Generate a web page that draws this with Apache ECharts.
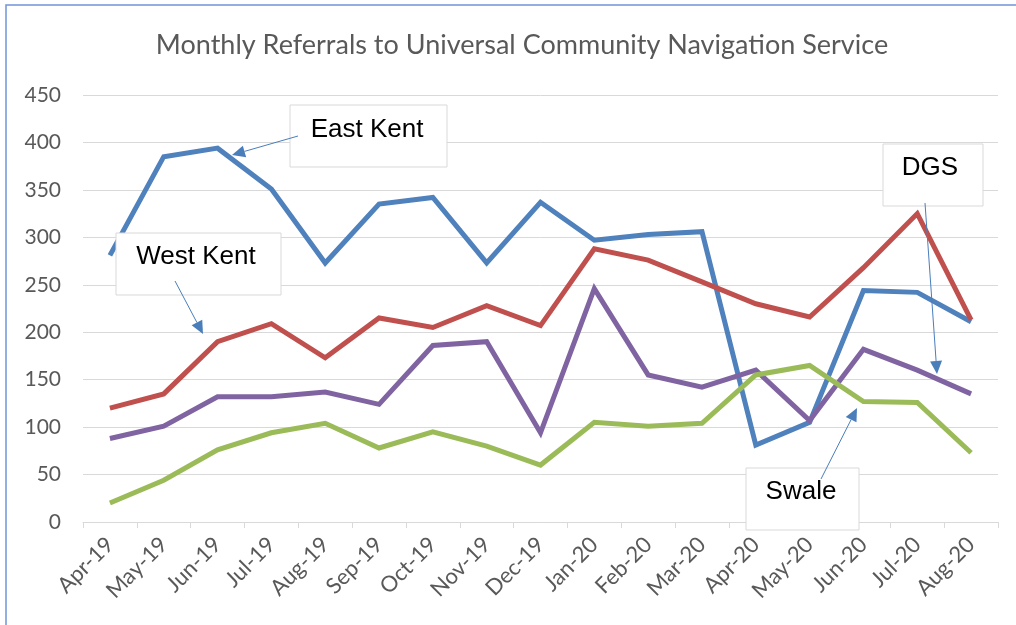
<!DOCTYPE html>
<html>
<head>
<meta charset="utf-8">
<title>Monthly Referrals to Universal Community Navigation Service</title>
<script src="https://cdn.jsdelivr.net/npm/echarts@6/dist/echarts.min.js"></script>
<style>
  html, body { margin: 0; padding: 0; background: #ffffff; }
  #chart { width: 1016px; height: 625px; }
</style>
</head>
<body>
<div id="chart"></div>
<script>
// Months on the category axis
const months = ['Apr-19', 'May-19', 'Jun-19', 'Jul-19', 'Aug-19', 'Sep-19', 'Oct-19', 'Nov-19', 'Dec-19',
                'Jan-20', 'Feb-20', 'Mar-20', 'Apr-20', 'May-20', 'Jun-20', 'Jul-20', 'Aug-20'];

// Monthly referral counts per area
const eastKent = [281, 385, 394, 351, 273, 335, 342, 273, 337, 297, 303, 306, 81, 105, 244, 242, 211];
const westKent = [120, 135, 190, 209, 173, 215, 205, 228, 207, 288, 276, 253, 230, 216, 268, 325, 213];
const dgs      = [88, 101, 132, 132, 137, 124, 186, 190, 94, 246, 155, 142, 160, 107, 182, 160, 135];
const swale    = [20, 44, 76, 94, 104, 78, 95, 80, 60, 105, 101, 104, 155, 165, 127, 126, 73];

// Value axis ticks
const yTicks = { min: 0, max: 450, step: 50 };

const chartTitle = 'Monthly Referrals to Universal Community Navigation Service';

const FONT = 'Lato, "Open Sans", sans-serif';
const BOX_FONT = '"Liberation Sans", Arial, sans-serif';
const ARROW = '#4A7EBB';

// Callout: a white text box with a thin arrow pointing at a line
function callout(label, box, textPos, from, to) {
  const dx = to[0] - from[0], dy = to[1] - from[1];
  const len = Math.sqrt(dx * dx + dy * dy);
  const ux = dx / len, uy = dy / len;
  const headL = 13, headW = 6;
  const bx = to[0] - ux * headL, by = to[1] - uy * headL;
  return [
    {
      type: 'rect', z: 100,
      shape: { x: box[0], y: box[1], width: box[2], height: box[3] },
      style: { fill: '#ffffff', stroke: '#D9D9D9', lineWidth: 1 }
    },
    {
      type: 'text', z: 101,
      x: textPos[0], y: textPos[1],
      style: { text: label, font: '26px ' + BOX_FONT, fill: '#000000', align: 'center', verticalAlign: 'middle' }
    },
    {
      type: 'line', z: 102,
      shape: { x1: from[0], y1: from[1], x2: bx, y2: by },
      style: { stroke: ARROW, lineWidth: 1 }
    },
    {
      type: 'polygon', z: 102,
      shape: { points: [to, [bx - uy * headW, by + ux * headW], [bx + uy * headW, by - ux * headW]] },
      style: { fill: ARROW }
    }
  ];
}

const lineSeries = (name, data, color) => ({
  name, type: 'line', data,
  symbol: 'none',
  lineStyle: { color, width: 5, join: 'miter', cap: 'butt' },
  itemStyle: { color },
  animation: false
});

const chart = echarts.init(document.getElementById('chart'), null, { renderer: 'canvas' });

chart.setOption({
  backgroundColor: '#ffffff',
  animation: false,
  title: {
    text: chartTitle,
    left: 517, top: 27, textAlign: 'center',
    textStyle: { fontFamily: FONT, fontSize: 27, fontWeight: 'normal', color: '#595959' }
  },
  grid: { left: 83, right: 18, top: 95, bottom: 103 },
  xAxis: {
    type: 'category',
    data: months,
    boundaryGap: true,
    axisLine: { lineStyle: { color: '#D9D9D9', width: 1 } },
    axisTick: { show: true, length: 6, lineStyle: { color: '#D9D9D9' } },
    axisLabel: { rotate: 45, margin: 19, fontFamily: FONT, fontSize: 22, color: '#595959' },
    splitLine: { show: false }
  },
  yAxis: {
    type: 'value',
    min: yTicks.min, max: yTicks.max, interval: yTicks.step,
    axisLine: { show: false },
    axisTick: { show: false },
    axisLabel: { margin: 22, fontFamily: FONT, fontSize: 21, color: '#595959' },
    splitLine: { lineStyle: { color: '#D9D9D9', width: 1 } }
  },
  series: [
    lineSeries('East Kent', eastKent, '#4F81BD'),
    lineSeries('West Kent', westKent, '#C0504D'),
    lineSeries('DGS', dgs, '#8064A2'),
    lineSeries('Swale', swale, '#9BBB59')
  ],
  graphic: [
    {
      type: 'rect', z: 200, silent: true,
      shape: { x: 6, y: 5, width: 1100, height: 700 },
      style: { fill: 'none', stroke: '#7094D8', lineWidth: 1.5 }
    },
    ...callout('East Kent', [290, 105, 157, 62], [367, 130], [298, 136], [232, 155]),
    ...callout('West Kent', [116, 233, 165, 62], [196, 257], [175, 281], [203, 334]),
    ...callout('DGS', [883, 144, 100, 62], [930, 168], [925, 203], [937, 374]),
    ...callout('Swale', [746, 468, 113, 62], [801, 492], [821, 479], [857, 408])
  ]
});
</script>
</body>
</html>
